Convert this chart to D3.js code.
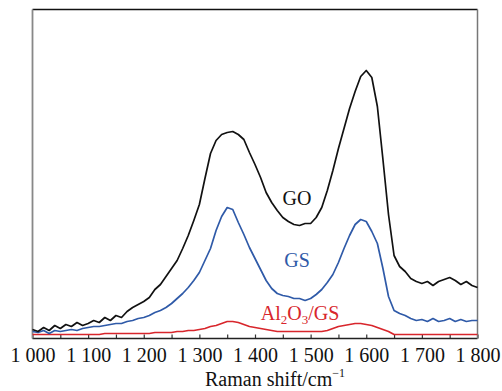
<!DOCTYPE html>
<html>
<head>
<meta charset="utf-8">
<script src="https://cdn.jsdelivr.net/npm/d3@7"></script>
<style>
  body { margin: 0; background: #fff; }
  svg text { font-family: "Liberation Serif", "Times New Roman", serif; }
</style>
</head>
<body>
<div id="chart"></div>
<script>
// Raman shift axis, one reading every 10 cm-1
var shifts = d3.range(1000, 1801, 10);

// intensities (arbitrary units)
var goValues = [
  9, 7, 11, 8, 13, 10, 14, 12, 16, 13,
  15, 18, 16, 21, 18, 23, 21, 27, 31, 34,
  37, 41, 49, 54, 62, 70, 78, 90, 103, 118,
  134, 160, 185, 198, 204, 206, 207, 204, 199, 186,
  174, 161, 146, 136, 128, 121, 117, 114, 113, 115,
  115, 121, 131, 148, 168, 190, 210, 230, 247, 262,
  268, 261, 232, 179, 124, 83, 72, 67, 60, 57,
  55, 57, 53, 57, 59, 61, 58, 54, 57, 53,
  51
];
var gsValues = [
  7, 6, 8, 5, 8, 7, 8, 9, 8, 10,
  11, 12, 12, 13, 14, 15, 15, 17, 18, 20,
  21, 23, 26, 28, 31, 35, 40, 45, 51, 58,
  66, 78, 90, 108, 122, 131, 129, 116, 104, 91,
  80, 69, 58, 50, 45, 43, 42, 40, 40, 38,
  40, 44, 49, 56, 64, 76, 90, 103, 114, 119,
  117, 107, 95, 70, 42, 28, 25, 23, 20, 18,
  19, 17, 20, 17, 18, 20, 17, 19, 17, 18,
  18
];
var alValues = [
  4, 4, 4, 4, 4, 4, 4, 4, 4, 4,
  4, 4, 4, 5, 5, 5, 5, 5, 5, 5,
  5, 5, 6, 6, 6, 6, 7, 7, 8, 8,
  9, 10, 12, 13, 15, 17, 17, 16, 14, 12,
  11, 10, 9, 8, 7, 7, 7, 7, 7, 7,
  7, 7, 7, 8, 10, 12, 13, 14, 15, 15,
  14, 13, 11, 9, 7, 4, 4, 4, 4, 4,
  4, 4, 4, 4, 4, 4, 4, 4, 4, 4,
  4
];

var xTicks = d3.range(1000, 1801, 50);

var width = 502, height = 391;
var plotLeft = 32.5, plotRight = 477.5, plotTop = 9.5, plotBottom = 338.5;

var svg = d3.select('#chart').append('svg')
  .attr('width', width)
  .attr('height', height);

var x = d3.scaleLinear().domain([1000, 1800]).range([plotLeft, plotRight]);
var y = d3.scaleLinear().domain([0, 329]).range([plotBottom, plotTop]);

var fmt = d3.formatLocale({ decimal: '.', thousands: ' ', grouping: [3], currency: ['', ''] }).format(',d');

// x axis with inward ticks, labels on the hundreds
var xAxis = d3.axisBottom(x)
  .tickValues(xTicks)
  .tickSize(-4)
  .tickPadding(9)
  .tickFormat(function(d) { return d % 100 === 0 ? fmt(d) : ''; });

var gx = svg.append('g')
  .attr('transform', 'translate(0,' + plotBottom + ')')
  .call(xAxis);
gx.select('.domain').remove();
gx.selectAll('line').attr('stroke', '#333').attr('stroke-width', 1.2);
gx.selectAll('text').attr('font-size', '20px').attr('fill', '#111');

// frame
svg.append('line').attr('x1', plotLeft).attr('x2', plotRight).attr('y1', plotTop).attr('y2', plotTop)
  .attr('stroke', '#111').attr('stroke-width', 1.5);
svg.append('line').attr('x1', plotLeft).attr('x2', plotRight).attr('y1', plotBottom).attr('y2', plotBottom)
  .attr('stroke', '#222').attr('stroke-width', 1.5);
svg.append('line').attr('x1', plotLeft).attr('x2', plotLeft).attr('y1', plotTop).attr('y2', plotBottom)
  .attr('stroke', '#888').attr('stroke-width', 1.8);
svg.append('line').attr('x1', plotRight).attr('x2', plotRight).attr('y1', plotTop).attr('y2', plotBottom)
  .attr('stroke', '#777').attr('stroke-width', 1.5);

var line = d3.line()
  .x(function(d) { return x(d[0]); })
  .y(function(d) { return y(d[1]); });

var series = [
  { name: 'Al2O3/GS', values: alValues, color: '#d8262c' },
  { name: 'GS', values: gsValues, color: '#2f5aa8' },
  { name: 'GO', values: goValues, color: '#111' }
];

series.forEach(function(s) {
  svg.append('path')
    .datum(d3.zip(shifts, s.values))
    .attr('fill', 'none')
    .attr('stroke', s.color)
    .attr('stroke-width', 1.7)
    .attr('stroke-linejoin', 'round')
    .attr('d', line);
});

// curve labels
svg.append('text').attr('x', 297).attr('y', 205).attr('text-anchor', 'middle')
  .attr('font-size', '20px').attr('fill', '#111').text('GO');
svg.append('text').attr('x', 297).attr('y', 267).attr('text-anchor', 'middle')
  .attr('font-size', '20px').attr('fill', '#2f5aa8').text('GS');

var al = svg.append('text').attr('x', 300).attr('y', 320).attr('text-anchor', 'middle')
  .attr('font-size', '20px').attr('fill', '#d8262c');
al.append('tspan').text('Al');
al.append('tspan').attr('font-size', '13px').attr('dy', 4).text('2');
al.append('tspan').attr('dy', -4).text('O');
al.append('tspan').attr('font-size', '13px').attr('dy', 4).text('3');
al.append('tspan').attr('dy', -4).text('/GS');

// axis title
var title = svg.append('text').attr('x', 275).attr('y', 386).attr('text-anchor', 'middle')
  .attr('font-size', '20px').attr('fill', '#111');
title.append('tspan').text('Raman shift/cm');
title.append('tspan').attr('font-size', '12px').attr('dy', -9).text('\u22121');
</script>
</body>
</html>
